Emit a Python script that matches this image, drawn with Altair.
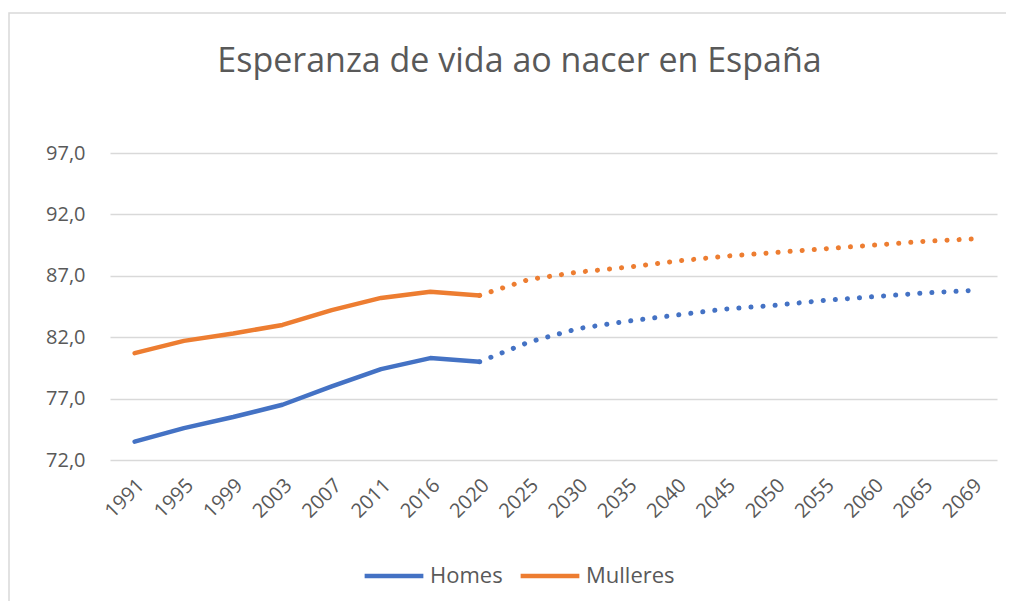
import altair as alt
import pandas as pd

years = ["1991", "1995", "1999", "2003", "2007", "2011", "2016", "2020",
         "2025", "2030", "2035", "2040", "2045", "2050", "2055", "2060", "2065", "2069"]
homes = [73.5, 74.6, 75.5, 76.5, 78.0, 79.4, 80.3, 80.0,
         81.6, 82.7, 83.3, 83.8, 84.3, 84.6, 85.0, 85.3, 85.6, 85.8]
mulleres = [80.7, 81.7, 82.3, 83.0, 84.2, 85.2, 85.7, 85.4,
            86.7, 87.3, 87.7, 88.2, 88.6, 88.9, 89.2, 89.5, 89.8, 90.0]
series = ["Homes", "Mulleres"]
colors = ["#4472C4", "#ED7D31"]
y_ticks = [72, 77, 82, 87, 92, 97]
last_observed = "2020"

rows = []
cut = years.index(last_observed)
for name, vals in zip(series, [homes, mulleres]):
    for i, (yr, v) in enumerate(zip(years, vals)):
        if i <= cut:
            rows.append({"ano": yr, "valor": v, "sexo": name, "tramo": "real"})
        if i >= cut:
            rows.append({"ano": yr, "valor": v, "sexo": name, "tramo": "proxeccion"})
df = pd.DataFrame(rows)

FONT = "Open Sans"
GREY = "#595959"

x_enc = alt.X("ano:O", sort=years, scale=alt.Scale(type="point", padding=0.5),
              axis=alt.Axis(title=None, labelAngle=-45, labelAlign="right", labelBaseline="middle",
                            labelFontSize=20, labelColor=GREY, labelFont=FONT, labelPadding=22,
                            labelOffset=6, ticks=False, domain=False, grid=False))
y_enc = alt.Y("valor:Q", scale=alt.Scale(domain=[72, 97], nice=False, zero=False),
              axis=alt.Axis(title=None, values=y_ticks,
                            labelExpr="replace(format(datum.value, '.1f'), '.', ',')",
                            labelFontSize=20, labelColor=GREY, labelFont=FONT, labelPadding=25,
                            ticks=False, domain=False, grid=True, gridColor="#D9D9D9", gridWidth=1.5))
color_enc = alt.Color("sexo:N", scale=alt.Scale(domain=series, range=colors),
                      legend=alt.Legend(title=None, orient="none", direction="horizontal",
                                        legendX=252, legendY=391,
                                        symbolType="stroke", symbolSize=3450, symbolStrokeWidth=4.5,
                                        symbolDash=[1, 0],
                                        labelFontSize=22, labelColor=GREY, labelFont=FONT,
                                        labelOffset=4, columnPadding=8))

frame = alt.Chart(pd.DataFrame({"k": [0]})).mark_rect(fill=None, stroke="#D9D9D9", strokeWidth=1.5).encode(
    x=alt.value(-101), x2=alt.value(920), y=alt.value(-140), y2=alt.value(480))

solid = alt.Chart(df).transform_filter(alt.datum.tramo == "real").mark_line(
    strokeWidth=4.5, strokeCap="round", strokeJoin="round").encode(
    x=x_enc, y=y_enc, color=color_enc, detail="sexo:N")

dotted = alt.Chart(df).transform_filter(alt.datum.tramo == "proxeccion").mark_line(
    strokeWidth=5, strokeCap="round", strokeDash=[0.1, 12]).encode(
    x=x_enc, y=y_enc, color=color_enc, detail="sexo:N")

chart = alt.layer(frame, solid, dotted).properties(
    width=887, height=307,
    title=alt.TitleParams("Esperanza de vida ao nacer en España", fontSize=34, font=FONT,
                          fontWeight="normal", color=GREY, anchor="middle", dx=-34, offset=0, dy=67),
    autosize=alt.AutoSizeParams(type="none"),
    padding={"left": 102, "top": 145, "right": 9, "bottom": 141},
).configure_view(stroke=None)

chart.save("out.html", embed_options={"renderer": "svg", "actions": False})
